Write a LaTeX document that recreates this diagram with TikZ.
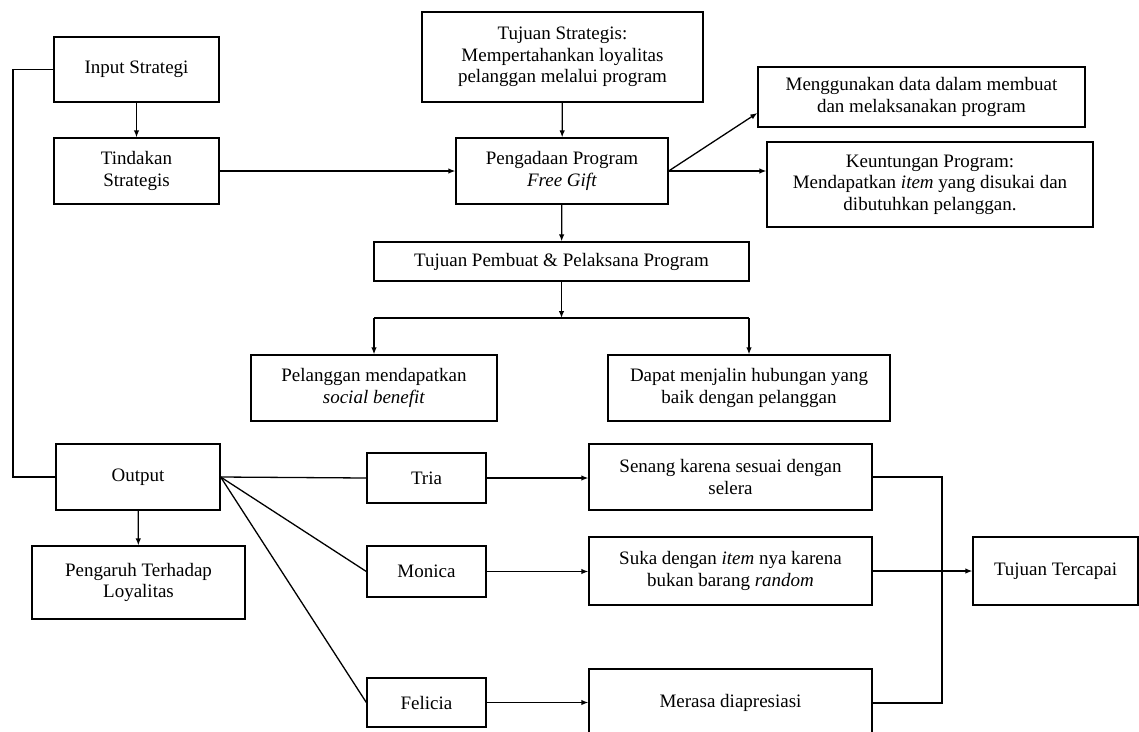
\documentclass[tikz,border=0pt]{standalone}
\usepackage{fontspec}
\setmainfont{Liberation Serif}
\usetikzlibrary{arrows.meta}
\begin{document}
\begin{tikzpicture}[x=1pt,y=-1pt,
  box/.style={draw, line width=1.3pt, align=center, inner sep=0pt, font=\fontsize{19}{21.5}\selectfont},
  conn/.style={line width=1.3pt},
  arr/.style={conn, -{Latex[length=7pt,width=5.5pt]}}]
\clip (0,0) rectangle (1139,731);
\fill[white] (0,0) rectangle (1139,731);

\node[box, minimum width=165, minimum height=65] (inp) at (136.5,69.5) {Input Strategi};
\node[box, minimum width=165, minimum height=66] (tind) at (136.5,171) {Tindakan\\Strategis};
\node[box, minimum width=281, minimum height=90] (tujS) at (562.5,57) {Tujuan Strategis:\\Mempertahankan loyalitas\\pelanggan melalui program};
\node[box, minimum width=212, minimum height=66] (peng) at (562,171) {Pengadaan Program\\\textit{Free Gift}};
\node[box, minimum width=327, minimum height=60] (meng) at (921.5,97) {Menggunakan data dalam membuat\\dan melaksanakan program};
\node[box, minimum width=326, minimum height=85] (keun) at (930,184.5) {Keuntungan Program:\\Mendapatkan \textit{item} yang disukai dan\\dibutuhkan pelanggan.};
\node[box, minimum width=375, minimum height=39] (tujP) at (561.5,261.5) {Tujuan Pembuat \& Pelaksana Program};
\node[box, minimum width=246, minimum height=66] (pel) at (374,388) {Pelanggan mendapatkan\\\textit{social benefit}};
\node[box, minimum width=282, minimum height=66] (dap) at (749,388) {Dapat menjalin hubungan yang\\baik dengan pelanggan};
\node[box, minimum width=164, minimum height=66] (out) at (138,477) {Output};
\node[box, minimum width=213, minimum height=73] (pgr) at (138.5,582.5) {Pengaruh Terhadap\\Loyalitas};
\node[box, minimum width=119, minimum height=50] (tria) at (426.5,478) {Tria};
\node[box, minimum width=119, minimum height=51] (mon) at (426.5,571.5) {Monica};
\node[box, minimum width=119, minimum height=49] (fel) at (426.5,702.5) {Felicia};
\node[box, minimum width=283, minimum height=66] (sen) at (730.5,477) {Senang karena sesuai dengan\\selera};
\node[box, minimum width=283, minimum height=68] (suka) at (730.5,571) {Suka dengan \textit{item} nya karena\\bukan barang \textit{random}};
\node[box, minimum width=283, minimum height=68] (mer) at (730.5,703) {Merasa diapresiasi};
\node[box, minimum width=165, minimum height=68] (tc) at (1055.5,571) {Tujuan Tercapai};

\coordinate (lx) at (13,0);
\coordinate (sL) at (374,318);
\coordinate (sR) at (749,318);
\coordinate (mx) at (942,0);

\draw[conn] (inp.west) -- (inp.west -| lx) |- (out.west);
\draw[arr] (inp) -- (tind);
\draw[arr] (tind) -- (peng);
\draw[arr] (tujS) -- (peng);
\draw[arr] (peng.east) -- ([yshift=-16pt]meng.west);
\draw[arr] (peng.east) -- (peng.east -| keun.west);
\draw[arr] (peng) -- (tujP);
\draw[arr] (tujP.south) -- (tujP.south |- sL);
\draw[conn] (sL) -- (sR);
\draw[arr] (sL) -- (pel.north);
\draw[arr] (sR) -- (dap.north);
\draw[arr] (out) -- (pgr);
\draw[conn] (out.east) -- (tria.west);
\draw[conn] (out.east) -- (mon.west);
\draw[conn] (out.east) -- (fel.west);
\draw[arr] (tria.east) -- (tria.east -| sen.west);
\draw[arr] (mon.east) -- (mon.east -| suka.west);
\draw[arr] (fel.east) -- (fel.east -| mer.west);
\draw[conn] (sen.east) -- (sen.east -| mx) |- (mer.east);
\draw[arr] (suka) -- (tc);
\end{tikzpicture}
\end{document}
